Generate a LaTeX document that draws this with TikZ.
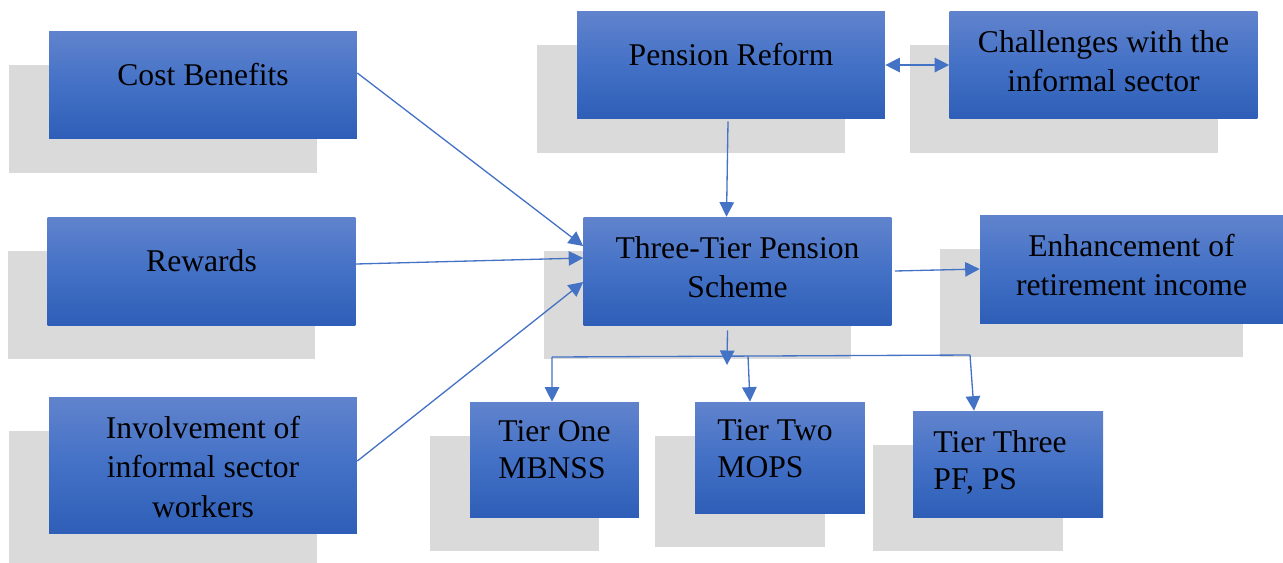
\documentclass[tikz,border=0pt]{standalone}
\usepackage{fontspec}
\setmainfont{Liberation Serif}
\usetikzlibrary{arrows.meta,shadows}
\definecolor{boxtop}{RGB}{97,131,205}
\definecolor{boxmid}{RGB}{67,113,198}
\definecolor{boxbot}{RGB}{46,94,183}
\definecolor{shadowgray}{RGB}{218,218,218}
\definecolor{linkblue}{RGB}{68,114,196}
\begin{document}
\begin{tikzpicture}[
    x=0.02cm, y=-0.02cm,
    font=\fontsize{18}{22.5}\selectfont,
    block/.style={rectangle, inner sep=0pt,
      top color=boxtop, bottom color=boxbot, middle color=boxmid,
      general shadow={fill=shadowgray, shadow xshift=-0.8cm, shadow yshift=-0.68cm}},
    wide/.style={block, minimum width=6.16cm, minimum height=2.16cm},
    txt/.style={align=center},
    tiertxt/.style={align=left, font=\fontsize{18}{21}\selectfont},
    link/.style={draw=linkblue, line width=0.75pt,
      >={Triangle[length=0.29cm,width=0.29cm]}}
  ]
  \useasboundingbox (0,0) rectangle (1283,562);

  \node[wide, label={[yshift=0.2cm]center:Cost Benefits}] (cost) at (203,85) {};
  \node[wide, label={[yshift=0.2cm]center:Rewards}] (rewards) at (201.5,271) {};
  \node[wide, minimum height=2.72cm,
    label={[txt,yshift=-0.04cm]center:{Involvement of\\informal sector\\workers}}] (involve) at (203,465) {};

  \node[wide, label={[yshift=0.2cm]center:Pension Reform}] (reform) at (731,65) {};
  \node[wide, label={[txt,yshift=0.08cm]center:{Challenges with the\\informal sector}}] (challenge) at (1103.5,65) {};
  \node[wide, label={[txt,yshift=0.08cm]center:{Three-Tier Pension\\Scheme}}] (scheme) at (737.5,271) {};
  \node[wide, minimum width=6.06cm,
    label={[txt,yshift=0.08cm]center:{Enhancement of\\retirement income}}] (enhance) at (1131.5,269) {};

  \node[block, minimum width=3.38cm, minimum height=2.3cm,
    label={[tiertxt,yshift=0.2cm]center:{Tier One\\MBNSS}}] (tierone) at (554.5,459.5) {};
  \node[block, minimum width=3.4cm, minimum height=2.22cm,
    label={[tiertxt,xshift=-0.1cm,yshift=0.17cm]center:{Tier Two\\MOPS}}] (tiertwo) at (780,457.5) {};
  \node[block, minimum width=3.8cm, minimum height=2.12cm,
    label={[tiertxt,xshift=-0.16cm,yshift=0.04cm]center:{Tier Three\\PF, PS}}] (tierthree) at (1008,464) {};

  \coordinate (busL) at (552,357);
  \coordinate (busM) at (748,356);
  \coordinate (busR) at (970,355);
  \coordinate (hub) at (727,365);

  \draw[link,->] ([yshift=0.24cm]cost.east) -- ([yshift=0.5cm]scheme.west);
  \draw[link,->] ([yshift=0.14cm]rewards.east) -- ([yshift=0.26cm]scheme.west);
  \draw[link,->] ([yshift=0.08cm]involve.east) -- ([yshift=-0.22cm]scheme.west);
  \draw[link,->] ([xshift=-0.06cm,yshift=-0.04cm]reform.south) -- ([xshift=-0.22cm]scheme.north);
  \draw[link,<->] (reform.east) -- (challenge.west);
  \draw[link,->] ([xshift=0.06cm]scheme.east) -- (enhance.west);

  \draw[link,->] ([xshift=-0.2cm,yshift=-0.1cm]scheme.south) -- (hub);
  \draw[link] (busL) -- (busR);
  \draw[link,->] (busL) -- ([xshift=-0.05cm]tierone.north);
  \draw[link,->] (busM) -- ([xshift=-0.6cm]tiertwo.north);
  \draw[link,->] (busR) -- ([xshift=-0.68cm]tierthree.north);
\end{tikzpicture}
\end{document}
